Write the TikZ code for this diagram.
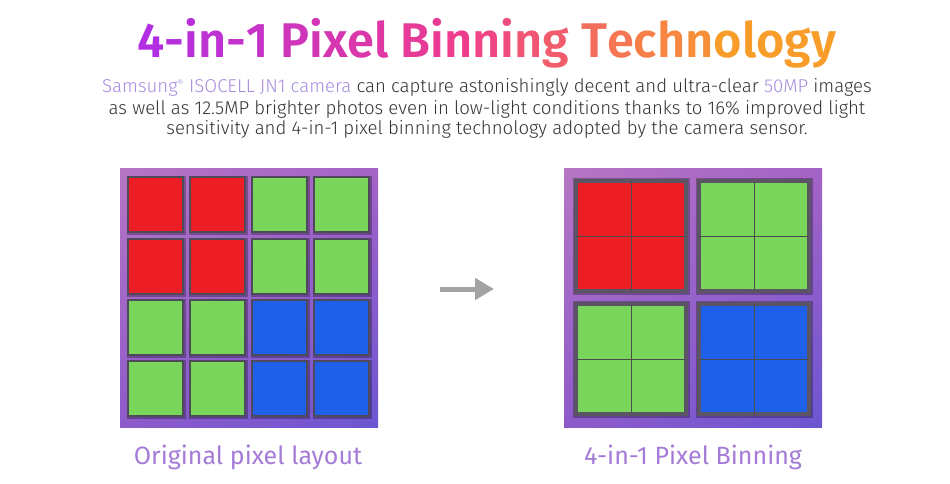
\documentclass[tikz,border=0pt]{standalone}
\usepackage{fontspec}
\setmainfont{Fira Sans}
\newfontfamily\titlefont{Fira Sans SemiBold}
\newfontfamily\bodyfont{Fira Sans Light}
\usetikzlibrary{arrows.meta,shadings}
\definecolor{tP}{HTML}{B22EE3}
\definecolor{tK}{HTML}{EE3C8E}
\definecolor{tO}{HTML}{F89C2A}
\definecolor{lav}{HTML}{A88BE0}
\definecolor{bodygray}{HTML}{333333}
\definecolor{labcol}{HTML}{A47CD8}
\definecolor{pxred}{HTML}{EC1D25}
\definecolor{pxgreen}{HTML}{79D65B}
\definecolor{pxblue}{HTML}{1E60E8}
\definecolor{cellframe}{HTML}{4E4A5C}
\definecolor{blockframe}{HTML}{5A5464}
\definecolor{arrowgray}{HTML}{A3A3A3}
\definecolor{pnUL}{HTML}{B676C4}
\definecolor{pnUR}{HTML}{A463C6}
\definecolor{pnLL}{HTML}{8E5ACA}
\definecolor{pnLR}{HTML}{6C56D2}
\newcount\tlq
\newcommand\tl[2]{%
  \ifnum#1<45 \tlq=\numexpr#1*100/45\relax\textcolor{tK!\the\tlq!tP}{#2}%
  \else \tlq=\numexpr(#1-45)*100/35\relax\ifnum\tlq>100 \tlq=100 \fi\textcolor{tO!\the\tlq!tK}{#2}\fi}
\tikzset{
  panel/.style={upper left=pnUL, upper right=pnUR, lower left=pnLL, lower right=pnLR},
  cellbox/.style={draw=cellframe, line width=1.2pt, minimum size=55pt, inner sep=0pt, outer sep=0pt, anchor=north west},
  blockbox/.style={draw=blockframe, line width=4pt, minimum size=110pt, inner sep=0pt, outer sep=0pt, anchor=north west},
  shadowbox/.style={fill=black, fill opacity=0.28, draw=none},
  subline/.style={anchor=base, inner sep=0pt, text=bodygray, font=\bodyfont\fontsize{18.6}{21}\selectfont},
  caption/.style={font=\fontsize{25}{28}\selectfont, text=labcol, anchor=base}
}
\begin{document}
\begin{tikzpicture}[x=1pt,y=-1pt]
\useasboundingbox (0,0) rectangle (950,484);
\fill[white] (0,0) rectangle (950,484);
% title
\node[anchor=base, inner sep=0pt, font=\titlefont\fontsize{48.7}{50}\selectfont] (title) at (487,58)
 {\tl{0}{4}\tl{3}{-}\tl{6}{i}\tl{9}{n}\tl{12}{-}\tl{15}{1} \tl{21}{P}\tl{24}{i}\tl{27}{x}\tl{30}{e}\tl{33}{l} \tl{39}{B}\tl{42}{i}\tl{45}{n}\tl{48}{n}\tl{51}{i}\tl{54}{n}\tl{57}{g} \tl{63}{T}\tl{66}{e}\tl{69}{c}\tl{72}{h}\tl{75}{n}\tl{80}{o}\tl{85}{l}\tl{90}{o}\tl{95}{g}\tl{99}{y}};
% subtitle
\node[subline] (sub1) at (487,93)
 {\textcolor{lav}{Samsung\textsuperscript{\fontsize{9}{9}\selectfont®} ISOCELL JN1 camera} can capture astonishingly decent and ultra-clear \textcolor{lav}{50MP} images};
\node[subline] (sub2) at (487,114)
 {as well as 12.5MP brighter photos even in low-light conditions thanks to 16\% improved light};
\node[subline] (sub3) at (487,135)
 {sensitivity and 4-in-1 pixel binning technology adopted by the camera sensor.};
% left panel
\shade[panel] (120,168) rectangle (378,427);
\foreach \cx [count=\i] in {128,190,252,314}{
  \foreach \cy [count=\j] in {177,239,300,361}{
    \fill[shadowbox] (\cx-1,\cy-1) rectangle (\cx+58,\cy+58);
  }
}
\foreach \cx [count=\i] in {128,190,252,314}{
  \foreach \cy [count=\j] in {177,239,300,361}{
    \pgfmathtruncatemacro\q{(\i>2)*1+(\j>2)*2}
    \ifcase\q \def\cc{pxred}\or \def\cc{pxgreen}\or \def\cc{pxgreen}\or \def\cc{pxblue}\fi
    \node[cellbox, fill=\cc] (L\i\j) at (\cx,\cy) {};
  }
}
% right panel
\shade[panel] (564,168) rectangle (822,427);
\foreach \bx [count=\i] in {576,699}{
  \foreach \by [count=\j] in {181,304}{
    \fill[shadowbox] (\bx-3,\by-3) rectangle (\bx+114,\by+114);
  }
}
\foreach \bx [count=\i] in {576,699}{
  \foreach \by [count=\j] in {181,304}{
    \pgfmathtruncatemacro\q{(\i>1)*1+(\j>1)*2}
    \ifcase\q \def\cc{pxred}\or \def\cc{pxgreen}\or \def\cc{pxgreen}\or \def\cc{pxblue}\fi
    \node[blockbox, fill=\cc] (R\i\j) at (\bx,\by) {};
    \draw[black!70, line width=0.8pt] (R\i\j.north) -- (R\i\j.south) (R\i\j.west) -- (R\i\j.east);
  }
}
% arrow
\coordinate (as) at (440,289);
\coordinate (ae) at (494,289);
\draw[arrowgray, line width=5pt, -{Triangle[length=19pt,width=21pt]}] (as) -- (ae);
% captions
\node[caption] (capL) at (248,464) {Original pixel layout};
\node[caption] (capR) at (693,464) {4-in-1 Pixel Binning};
\end{tikzpicture}
\end{document}
